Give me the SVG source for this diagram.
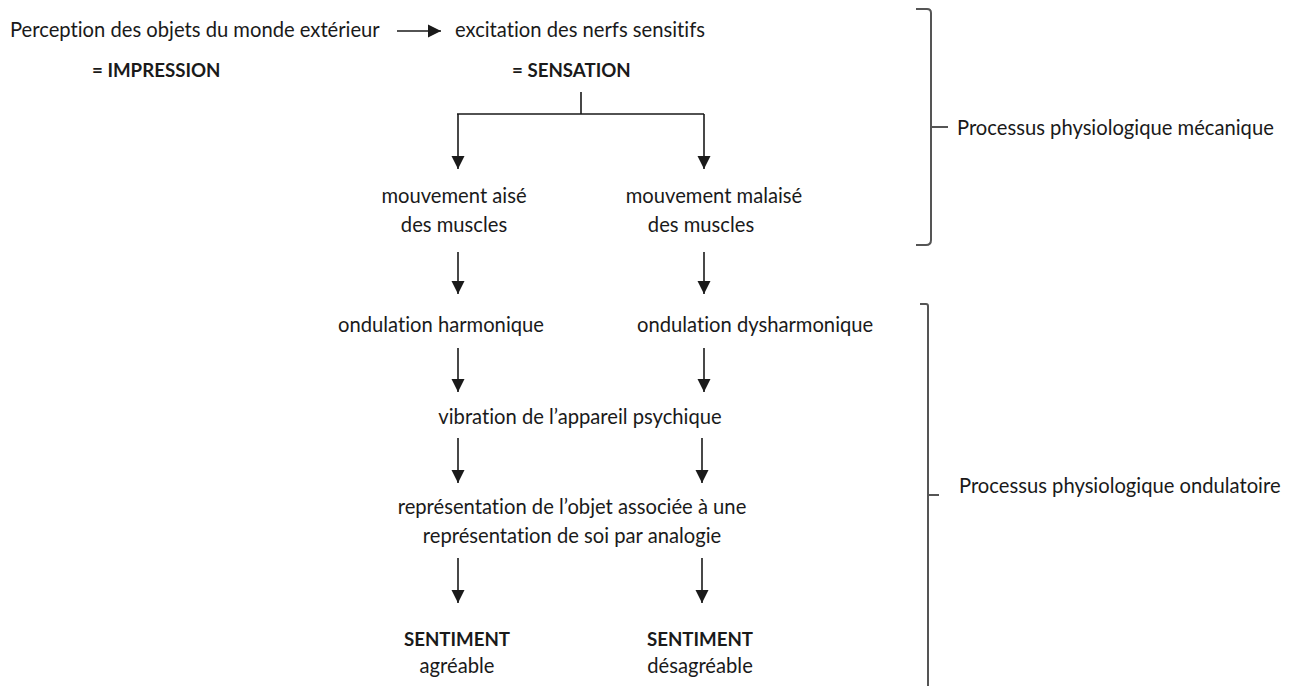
<svg xmlns="http://www.w3.org/2000/svg" width="1295" height="686" viewBox="0 0 1295 686">
  <style>
    text { font-family: Lato, "Open Sans", "Liberation Sans", sans-serif; font-size: 20.2px; fill: #1a1a1a; font-variant-ligatures: none; }
    .b { font-weight: bold; font-size: 18.7px; }
    .c { text-anchor: middle; }
    .conn { stroke: #1a1a1a; stroke-width: 1.6; fill: none; }
    .brace { stroke: #555; stroke-width: 2; fill: none; }
  </style>
  <defs>
    <marker id="ah" markerUnits="userSpaceOnUse" markerWidth="14" markerHeight="14" viewBox="0 0 14 14" refX="13" refY="7" orient="auto">
      <path d="M0,0.5 L13,7 L0,13.5 Z" fill="#1a1a1a"/>
    </marker>
  </defs>
  <rect width="1295" height="686" fill="#fff"/>

  <g id="connectors">
    <line class="conn" x1="397" y1="31" x2="441" y2="31" marker-end="url(#ah)"/>
    <path class="conn" d="M581,92 V114 M457,114 H704"/>
    <line class="conn" x1="458" y1="114" x2="458" y2="169" marker-end="url(#ah)"/>
    <line class="conn" x1="704" y1="114" x2="704" y2="169" marker-end="url(#ah)"/>
    <line class="conn" x1="458" y1="252" x2="458" y2="294" marker-end="url(#ah)"/>
    <line class="conn" x1="704" y1="252" x2="704" y2="294" marker-end="url(#ah)"/>
    <line class="conn" x1="458" y1="348" x2="458" y2="392" marker-end="url(#ah)"/>
    <line class="conn" x1="704" y1="348" x2="704" y2="392" marker-end="url(#ah)"/>
    <line class="conn" x1="458" y1="438" x2="458" y2="483" marker-end="url(#ah)"/>
    <line class="conn" x1="702" y1="438" x2="702" y2="483" marker-end="url(#ah)"/>
    <line class="conn" x1="458" y1="558" x2="458" y2="603" marker-end="url(#ah)"/>
    <line class="conn" x1="702" y1="558" x2="702" y2="603" marker-end="url(#ah)"/>
  </g>

  <g id="impression">
    <text x="10" y="37">Perception des objets du monde extérieur</text>
    <text x="92" y="77" class="b">= IMPRESSION</text>
  </g>
  <g id="sensation">
    <text x="455" y="37">excitation des nerfs sensitifs</text>
    <text x="512" y="77" class="b">= SENSATION</text>
  </g>
  <g id="mouvement-aise">
    <text x="454" y="203" class="c">mouvement aisé</text>
    <text x="454" y="232" class="c">des muscles</text>
  </g>
  <g id="mouvement-malaise">
    <text x="714" y="203" class="c">mouvement malaisé</text>
    <text x="701" y="232" class="c">des muscles</text>
  </g>
  <g id="ondulation-harmonique">
    <text x="441" y="332" class="c">ondulation harmonique</text>
  </g>
  <g id="ondulation-dysharmonique">
    <text x="637" y="332">ondulation dysharmonique</text>
  </g>
  <g id="vibration">
    <text x="580" y="424" class="c">vibration de l’appareil psychique</text>
  </g>
  <g id="representation">
    <text x="572" y="514" class="c">représentation de l’objet associée à une</text>
    <text x="572" y="543" class="c">représentation de soi par analogie</text>
  </g>
  <g id="sentiment-agreable">
    <text x="457" y="646" class="c b">SENTIMENT</text>
    <text x="457" y="673" class="c">agréable</text>
  </g>
  <g id="sentiment-desagreable">
    <text x="700" y="646" class="c b">SENTIMENT</text>
    <text x="700" y="673" class="c">désagréable</text>
  </g>

  <g id="brace-mecanique">
    <path class="brace" d="M916,9 H927 Q931,9 931,13 V240 Q931,245 926,245 H916 M931,127 H948"/>
    <text x="957" y="135">Processus physiologique mécanique</text>
  </g>
  <g id="brace-ondulatoire">
    <path class="brace" d="M920,304 H926 Q928,304 928,306 V686 M928,495 H939"/>
    <text x="959" y="493">Processus physiologique ondulatoire</text>
  </g>
</svg>
